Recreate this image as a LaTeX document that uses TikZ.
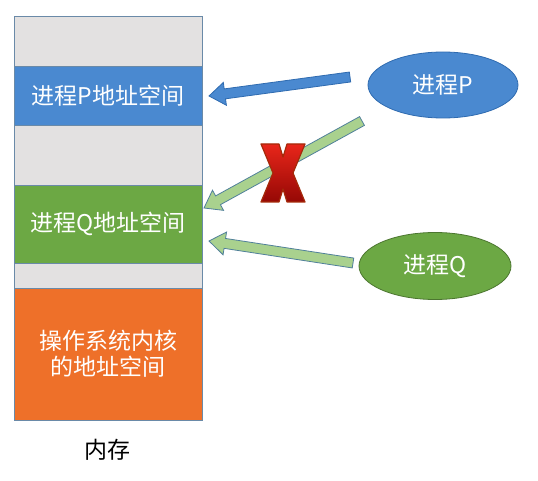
\documentclass[tikz,border=0pt]{standalone}
\usepackage{fontspec}
\newfontfamily\cjk{Noto Sans CJK SC}
\usetikzlibrary{calc,shapes.geometric}
\definecolor{memgray}{HTML}{E3E1E1}
\definecolor{pblue}{HTML}{4A89D0}
\definecolor{qgreen}{HTML}{6CA844}
\definecolor{kor}{HTML}{EE7029}
\definecolor{edgec}{HTML}{6A8AA8}
\definecolor{arrgreen}{HTML}{A9D18E}
\definecolor{arrgreenedge}{HTML}{50809A}
\definecolor{arrblueedge}{HTML}{2F6BB0}
\definecolor{xred}{HTML}{E8261A}
\definecolor{xdark}{HTML}{950805}
\definecolor{xedge}{HTML}{A52A0A}
\newcommand\blockarr[4]{%
  \coordinate (#4n) at ($(#2)!16pt!(#1)$);
  \draw[#3] ($(#1)!5pt!90:(#2)$) -- ($(#4n)!5pt!90:(#2)$) -- ($(#4n)!11.5pt!90:(#2)$) -- (#2)
    -- ($(#4n)!11.5pt!-90:(#2)$) -- ($(#4n)!5pt!-90:(#2)$) -- ($(#1)!5pt!-90:(#2)$) -- cycle;}
\begin{document}
\begin{tikzpicture}[x=1pt,y=-1pt,
  band/.style={draw=edgec, line width=0.8pt, minimum width=188pt, inner sep=0pt, outer sep=0pt,
    text=white, font=\cjk\fontsize{23}{29}\selectfont, align=center},
  proc/.style={ellipse, line width=0.8pt, inner sep=0pt, text=white, font=\cjk\fontsize{23}{27}\selectfont},
  bluearr/.style={fill=pblue, draw=arrblueedge, line width=0.8pt, line join=miter},
  greenarr/.style={fill=arrgreen, draw=arrgreenedge, line width=0.8pt, line join=miter}]
\useasboundingbox (0,0) rectangle (538,481);
\fill[white] (0,0) rectangle (538,481);
% memory column
\node[band, fill=memgray, minimum height=50pt] (g1) at (108,41) {};
\node[band, fill=pblue, minimum height=59pt] (pspace) at (108,95.5) {进程P地址空间};
\node[band, fill=memgray, minimum height=60pt] (g2) at (108,155) {};
\node[band, fill=qgreen, minimum height=78pt] (qspace) at (108,224) {进程Q地址空间};
\node[band, fill=memgray, minimum height=25pt] (g3) at (108,275.5) {};
\node[band, fill=kor, minimum height=132pt] (kernel) at (108,354) {操作系统内核\\[-3pt]的地址空间};
\node[font=\cjk\fontsize{23}{27}\selectfont] (mem) at (107,450) {内存};
% processes
\node[proc, fill=pblue, draw=arrblueedge, minimum width=150pt, minimum height=66pt] (procP) at (443,85) {进程P};
\node[proc, fill=qgreen, draw=qgreen!70!black, minimum width=152pt, minimum height=67pt] (procQ) at (435,266) {进程Q};
% arrow ends
\coordinate (pt1) at (350,77);
\coordinate (ph1) at (209,96);
\coordinate (pt2) at (362,121);
\coordinate (ph2) at (204,208);
\coordinate (qt1) at (353,263);
\coordinate (qh1) at (209,241);
\blockarr{pt1}{ph1}{bluearr}{a}
\blockarr{pt2}{ph2}{greenarr}{b}
\blockarr{qt1}{qh1}{greenarr}{c}
% red cross
\coordinate (xc) at (283,173);
\draw[xedge, line width=1.2pt, line join=round, top color=xred, bottom color=xdark, shading angle=0]
  ($(xc)+(-22,-29)$) -- ($(xc)+(-4,-29)$) -- ($(xc)+(0,-16)$) -- ($(xc)+(4,-29)$) -- ($(xc)+(22,-29)$)
  -- ($(xc)+(10,0)$) -- ($(xc)+(22,29)$) -- ($(xc)+(4,29)$) -- ($(xc)+(0,16)$) -- ($(xc)+(-4,29)$)
  -- ($(xc)+(-22,29)$) -- ($(xc)+(-10,0)$) -- cycle;
\end{tikzpicture}
\end{document}
